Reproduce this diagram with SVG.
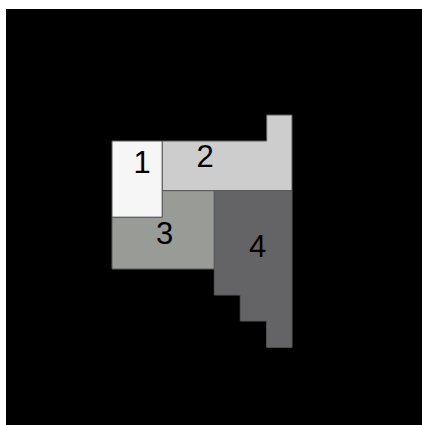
<svg xmlns="http://www.w3.org/2000/svg" width="422" height="425" viewBox="0 0 422 425">
<style>
.region{stroke:#5a5a5a;stroke-width:1}
.lbl{font-family:"Liberation Sans",Arial,sans-serif;font-size:31px;fill:#000;text-anchor:middle}
</style>
<rect x="0" y="0" width="422" height="425" fill="#ffffff"/>
<rect x="6" y="9" width="416" height="416" fill="#000000"/>
<g id="region1">
<polygon class="region" fill="#f6f6f6" points="112,141 162.3,141 162.3,217.3 112,217.3"/>
<text class="lbl" x="142" y="173">1</text>
</g>
<g id="region2">
<polygon class="region" fill="#cdcdcd" points="162.3,141 266.7,141 266.7,115 292,115 292,190.7 162.3,190.7"/>
<text class="lbl" x="205" y="166.5">2</text>
</g>
<g id="region3">
<polygon class="region" fill="#999b97" points="162.3,190.7 214.3,190.7 214.3,269 112,269 112,217.3 162.3,217.3"/>
<text class="lbl" x="164.5" y="243.5">3</text>
</g>
<g id="region4">
<polygon class="region" fill="#646365" points="214.3,190.7 292,190.7 292,347.3 266.7,347.3 266.7,321 240.3,321 240.3,295 214.3,295"/>
<text class="lbl" x="257.5" y="257">4</text>
</g>
<g id="connectors"></g>
</svg>
